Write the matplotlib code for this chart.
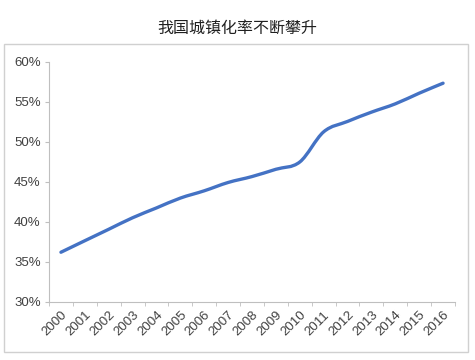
import numpy as np
import matplotlib.pyplot as plt
from matplotlib.path import Path
from matplotlib.patches import PathPatch, Rectangle
from matplotlib.ticker import FuncFormatter

plt.rcParams['font.family'] = ['Liberation Sans', 'DejaVu Sans']

# 城镇化率 (%)
years = [str(y) for y in range(2000, 2017)]
rate = [36.22, 37.66, 39.09, 40.53, 41.76, 42.99, 43.90, 44.94, 45.68,
        46.59, 47.50, 51.27, 52.57, 53.73, 54.77, 56.10, 57.35]
title = '我国城镇化率不断攀升'


def smooth_path(x, y, t=1 / 6):
    # Catmull-Rom style bezier, like Excel's "smoothed line"
    verts = [(x[0], y[0])]
    codes = [Path.MOVETO]
    n = len(x)
    for i in range(n - 1):
        x0, y0 = (x[i - 1], y[i - 1]) if i > 0 else (x[i], y[i])
        x3, y3 = (x[i + 2], y[i + 2]) if i + 2 < n else (x[i + 1], y[i + 1])
        c1 = (x[i] + (x[i + 1] - x0) * t, y[i] + (y[i + 1] - y0) * t)
        c2 = (x[i + 1] - (x3 - x[i]) * t, y[i + 1] - (y3 - y[i]) * t)
        verts += [c1, c2, (x[i + 1], y[i + 1])]
        codes += [Path.CURVE4] * 3
    return Path(verts, codes)


fig = plt.figure(figsize=(4.75, 3.6), dpi=100)
fig.patches.append(Rectangle((4 / 475, 1 - 352 / 360), 464 / 475, 308 / 360,
                             transform=fig.transFigure, fill=False,
                             edgecolor='#d0d0d0', linewidth=1))
fig.text(0.5, 1 - 28 / 360, title, ha='center', va='center', fontsize=11.5,
         family=['Noto Sans CJK SC', 'DejaVu Sans'], color='#202020')

ax = fig.add_axes([49 / 475, 1 - 302 / 360, 406 / 475, 240 / 360])
xs = np.arange(len(years))
ax.add_patch(PathPatch(smooth_path(xs, rate), fill=False,
                       edgecolor='#4472C4', linewidth=2.4,
                       capstyle='round', joinstyle='round'))

ax.set_xlim(-0.5, len(years) - 0.5)
ax.set_ylim(30, 60)
ax.set_yticks(np.arange(30, 61, 5))
ax.yaxis.set_major_formatter(FuncFormatter(lambda v, p: f'{v:.0f}%'))
ax.set_xticks(xs)
ax.set_xticklabels(years, rotation=45, ha='right', rotation_mode='anchor')
ax.set_xticks(np.arange(-0.5, len(years)), minor=True)

for s in ['top', 'right']:
    ax.spines[s].set_visible(False)
for s in ['left', 'bottom']:
    ax.spines[s].set_color('#bfbfbf')
ax.tick_params(axis='y', colors='#bfbfbf', labelcolor='#404040',
               labelsize=9.5, length=3, pad=3)
ax.tick_params(axis='x', which='major', length=0, labelsize=9.5,
               labelcolor='#404040', pad=5)
ax.tick_params(axis='x', which='minor', length=3, colors='#bfbfbf')

fig.savefig('out.png', dpi=100)
